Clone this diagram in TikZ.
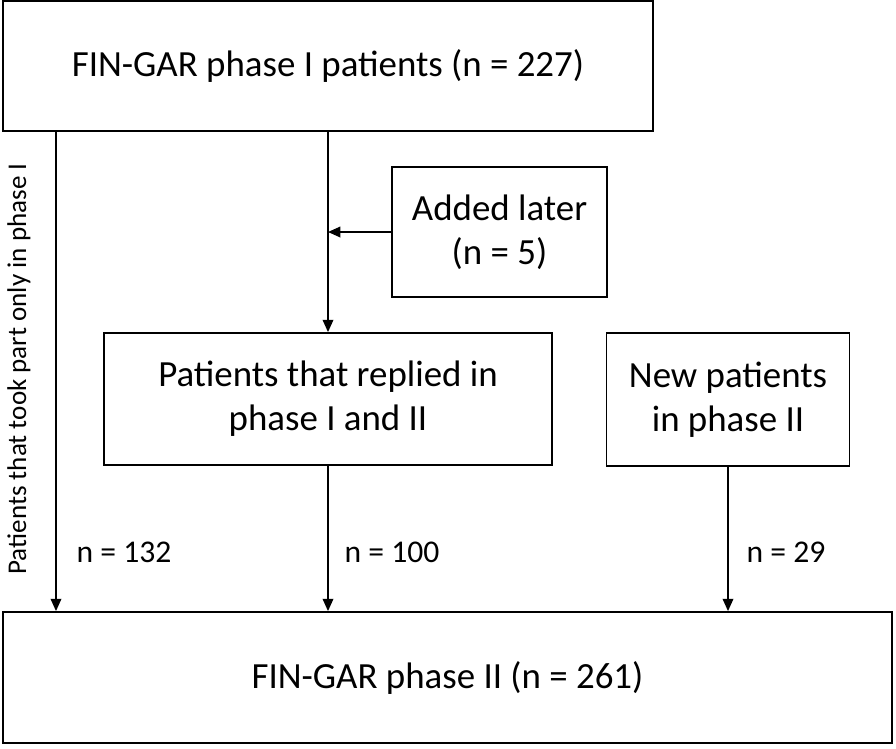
\documentclass[tikz,border=0pt]{standalone}
\usepackage{fontspec}
\setmainfont{Carlito}
\usetikzlibrary{positioning, arrows.meta}

\begin{document}
\begin{tikzpicture}[x=0.02cm, y=-0.02cm, line width=1pt,
        box/.style={draw, rectangle, align=center, inner sep=0pt,
                    font=\fontsize{21}{25}\selectfont},
        arr/.style={-{Triangle[length=7pt, width=6pt]}},
        lab/.style={font=\fontsize{18}{21}\selectfont, anchor=west}]
        \useasboundingbox (0,0) rectangle (896,748);
        \node[box, minimum width=650*0.02cm, minimum height=130*0.02cm] (phaseI) at (328,66) {FIN-GAR phase I patients (n = 227)};
        \node[box, minimum width=215*0.02cm, minimum height=130*0.02cm] (added) at (499.5,232) {Added later\\(n = 5)};
        \node[box, minimum width=448*0.02cm, minimum height=132*0.02cm] (both) at (328,399) {Patients that replied in\\phase I and II};
        \node[box, minimum width=243*0.02cm, minimum height=133*0.02cm] (new) at (728,399.5) {New patients\\in phase II};
        \node[box, minimum width=889*0.02cm, minimum height=131*0.02cm] (phaseII) at (447.5,677.5) {FIN-GAR phase II (n = 261)};
        \coordinate (only) at (56,131);
        % connectors
        \draw[arr] (only) -- (only |- phaseII.north);
        \draw[arr] (phaseI.south) -- (both.north);
        \draw[arr] (added.west) -- (added.west -| both.north);
        \draw[arr] (both.south) -- (phaseII.north -| both.south);
        \draw[arr] (new.south) -- (phaseII.north -| new.south);
        % labels
        \node[rotate=90, font=\fontsize{15.4}{18}\selectfont] (onlylab) at (19,369) {Patients that took part only in phase I};
        \node[lab] (n132) at (70,552) {n = 132};
        \node[lab] (n100) at (338,552) {n = 100};
        \node[lab] (n29) at (740,552) {n = 29};
\end{tikzpicture}
\end{document}
